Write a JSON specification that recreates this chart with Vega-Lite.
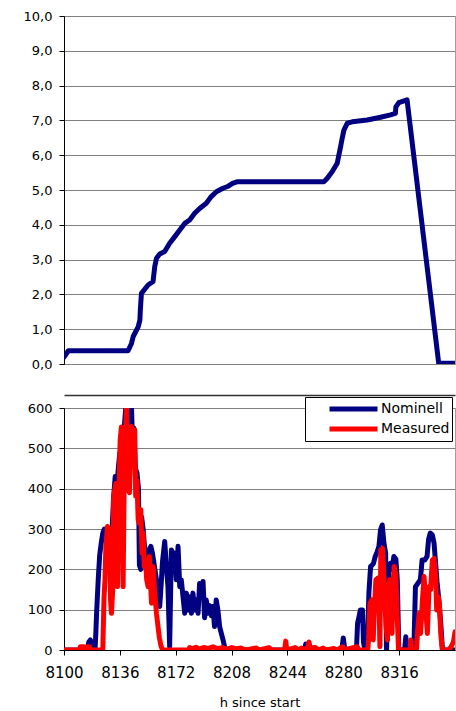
{
  "$schema": "https://vega.github.io/schema/vega-lite/v6.json",
  "background": "white",
  "padding": {"left": 22, "top": 9, "right": 0, "bottom": 0},
  "autosize": {"type": "pad"},
  "spacing": 44,
  "bounds": "flush",
  "config": {
    "font": "DejaVu Sans",
    "view": {"stroke": "#a0a0a0", "strokeWidth": 1},
    "axis": {
      "domainColor": "#000000", "tickColor": "#000000", "gridColor": "#808080", "gridWidth": 1,
      "labelFont": "DejaVu Sans", "labelFontSize": 13, "labelColor": "#000000",
      "tickSize": 5, "labelPadding": 7,
      "titleFont": "DejaVu Sans", "titleFontSize": 13, "titleFontWeight": "normal", "titleColor": "#000000"
    },
    "legend": {
      "labelFont": "DejaVu Sans", "labelFontSize": 14, "labelColor": "#000000"
    }
  },
  "datasets": {
    "top": [
      {"h": 8100, "v": 0.2}, {"h": 8102.8, "v": 0.38}, {"h": 8141.3, "v": 0.38}, {"h": 8143.5, "v": 0.59},
      {"h": 8144.6, "v": 0.79}, {"h": 8147.8, "v": 1.07}, {"h": 8148.9, "v": 1.26}, {"h": 8149.2, "v": 1.55},
      {"h": 8149.9, "v": 2.03}, {"h": 8154.2, "v": 2.27}, {"h": 8157.4, "v": 2.37}, {"h": 8158.5, "v": 2.8},
      {"h": 8159.6, "v": 3.04}, {"h": 8161.7, "v": 3.16}, {"h": 8164.9, "v": 3.23}, {"h": 8168.1, "v": 3.47},
      {"h": 8171.4, "v": 3.66}, {"h": 8174.6, "v": 3.85}, {"h": 8177.8, "v": 4.04}, {"h": 8181, "v": 4.14},
      {"h": 8184.2, "v": 4.33}, {"h": 8187.4, "v": 4.47}, {"h": 8191.7, "v": 4.62}, {"h": 8194.9, "v": 4.81},
      {"h": 8198.2, "v": 4.95}, {"h": 8202.4, "v": 5.05}, {"h": 8205.4, "v": 5.1}, {"h": 8208.6, "v": 5.19},
      {"h": 8211.9, "v": 5.24}, {"h": 8267.6, "v": 5.24}, {"h": 8269.7, "v": 5.34}, {"h": 8272.9, "v": 5.53},
      {"h": 8276.1, "v": 5.77}, {"h": 8277.2, "v": 6.01}, {"h": 8278.3, "v": 6.25}, {"h": 8279.3, "v": 6.49},
      {"h": 8280.4, "v": 6.72}, {"h": 8282.6, "v": 6.92}, {"h": 8285.8, "v": 6.96}, {"h": 8295.4, "v": 7.01},
      {"h": 8304, "v": 7.09}, {"h": 8310.4, "v": 7.16}, {"h": 8313.6, "v": 7.2}, {"h": 8313.9, "v": 7.39},
      {"h": 8315.8, "v": 7.51}, {"h": 8321.1, "v": 7.59}, {"h": 8341.5, "v": 0.02}, {"h": 8352, "v": 0.02}
    ],
    "bottom": [
      {"s": "Nominell", "h": 8100, "v": 0}, {"s": "Nominell", "h": 8115, "v": 0}, {"s": "Nominell", "h": 8116, "v": 20},
      {"s": "Nominell", "h": 8117, "v": 25}, {"s": "Nominell", "h": 8118, "v": 0}, {"s": "Nominell", "h": 8120, "v": 0},
      {"s": "Nominell", "h": 8120.5, "v": 40}, {"s": "Nominell", "h": 8121, "v": 90}, {"s": "Nominell", "h": 8122, "v": 170},
      {"s": "Nominell", "h": 8123, "v": 235}, {"s": "Nominell", "h": 8124, "v": 265}, {"s": "Nominell", "h": 8125, "v": 290},
      {"s": "Nominell", "h": 8126, "v": 300}, {"s": "Nominell", "h": 8127, "v": 280}, {"s": "Nominell", "h": 8128, "v": 300},
      {"s": "Nominell", "h": 8129, "v": 260}, {"s": "Nominell", "h": 8130, "v": 220}, {"s": "Nominell", "h": 8131, "v": 300},
      {"s": "Nominell", "h": 8132, "v": 380}, {"s": "Nominell", "h": 8133, "v": 430}, {"s": "Nominell", "h": 8134, "v": 400},
      {"s": "Nominell", "h": 8135, "v": 450}, {"s": "Nominell", "h": 8136, "v": 490}, {"s": "Nominell", "h": 8137, "v": 430},
      {"s": "Nominell", "h": 8138, "v": 520}, {"s": "Nominell", "h": 8139, "v": 560}, {"s": "Nominell", "h": 8139.8, "v": 600},
      {"s": "Nominell", "h": 8141, "v": 600}, {"s": "Nominell", "h": 8142, "v": 560}, {"s": "Nominell", "h": 8143.5, "v": 600},
      {"s": "Nominell", "h": 8144, "v": 540}, {"s": "Nominell", "h": 8145, "v": 550}, {"s": "Nominell", "h": 8146, "v": 450},
      {"s": "Nominell", "h": 8147, "v": 440}, {"s": "Nominell", "h": 8148, "v": 400}, {"s": "Nominell", "h": 8148.6, "v": 210},
      {"s": "Nominell", "h": 8149.5, "v": 200}, {"s": "Nominell", "h": 8150, "v": 330}, {"s": "Nominell", "h": 8151, "v": 300},
      {"s": "Nominell", "h": 8152, "v": 250}, {"s": "Nominell", "h": 8153, "v": 200}, {"s": "Nominell", "h": 8154, "v": 180},
      {"s": "Nominell", "h": 8155, "v": 250}, {"s": "Nominell", "h": 8156, "v": 257}, {"s": "Nominell", "h": 8157, "v": 240},
      {"s": "Nominell", "h": 8158, "v": 215}, {"s": "Nominell", "h": 8159.6, "v": 174}, {"s": "Nominell", "h": 8160.6, "v": 132},
      {"s": "Nominell", "h": 8161.7, "v": 108}, {"s": "Nominell", "h": 8162.8, "v": 174}, {"s": "Nominell", "h": 8163.5, "v": 220},
      {"s": "Nominell", "h": 8164.9, "v": 269}, {"s": "Nominell", "h": 8166, "v": 207}, {"s": "Nominell", "h": 8167, "v": 157},
      {"s": "Nominell", "h": 8168.1, "v": 8}, {"s": "Nominell", "h": 8169.2, "v": 248}, {"s": "Nominell", "h": 8170.3, "v": 240},
      {"s": "Nominell", "h": 8171.4, "v": 240}, {"s": "Nominell", "h": 8172.4, "v": 174}, {"s": "Nominell", "h": 8173.5, "v": 257},
      {"s": "Nominell", "h": 8174.6, "v": 157}, {"s": "Nominell", "h": 8175.6, "v": 174}, {"s": "Nominell", "h": 8176.7, "v": 132},
      {"s": "Nominell", "h": 8177.8, "v": 91}, {"s": "Nominell", "h": 8178.9, "v": 141}, {"s": "Nominell", "h": 8179.9, "v": 99},
      {"s": "Nominell", "h": 8181, "v": 132}, {"s": "Nominell", "h": 8182.1, "v": 91}, {"s": "Nominell", "h": 8183.1, "v": 141},
      {"s": "Nominell", "h": 8184.2, "v": 99}, {"s": "Nominell", "h": 8185.3, "v": 124}, {"s": "Nominell", "h": 8186.4, "v": 91},
      {"s": "Nominell", "h": 8187.4, "v": 165}, {"s": "Nominell", "h": 8188.5, "v": 141}, {"s": "Nominell", "h": 8189.6, "v": 170},
      {"s": "Nominell", "h": 8190.6, "v": 80}, {"s": "Nominell", "h": 8191.7, "v": 124}, {"s": "Nominell", "h": 8192.8, "v": 91},
      {"s": "Nominell", "h": 8193.9, "v": 110}, {"s": "Nominell", "h": 8195, "v": 85}, {"s": "Nominell", "h": 8196, "v": 108},
      {"s": "Nominell", "h": 8197, "v": 58}, {"s": "Nominell", "h": 8198.1, "v": 124}, {"s": "Nominell", "h": 8199.2, "v": 99},
      {"s": "Nominell", "h": 8200.3, "v": 58}, {"s": "Nominell", "h": 8201.4, "v": 41}, {"s": "Nominell", "h": 8202.5, "v": 25},
      {"s": "Nominell", "h": 8203.5, "v": 8}, {"s": "Nominell", "h": 8204.6, "v": 0}, {"s": "Nominell", "h": 8255, "v": 0},
      {"s": "Nominell", "h": 8255.8, "v": 15}, {"s": "Nominell", "h": 8256.5, "v": 0}, {"s": "Nominell", "h": 8279, "v": 0},
      {"s": "Nominell", "h": 8280, "v": 30}, {"s": "Nominell", "h": 8281, "v": 0}, {"s": "Nominell", "h": 8288.5, "v": 0},
      {"s": "Nominell", "h": 8289.2, "v": 66}, {"s": "Nominell", "h": 8290, "v": 80}, {"s": "Nominell", "h": 8291, "v": 99},
      {"s": "Nominell", "h": 8292.4, "v": 99}, {"s": "Nominell", "h": 8293, "v": 20}, {"s": "Nominell", "h": 8294, "v": 0},
      {"s": "Nominell", "h": 8295.5, "v": 0}, {"s": "Nominell", "h": 8296.5, "v": 141}, {"s": "Nominell", "h": 8297.6, "v": 207},
      {"s": "Nominell", "h": 8298.5, "v": 210}, {"s": "Nominell", "h": 8299.5, "v": 215}, {"s": "Nominell", "h": 8300.5, "v": 231},
      {"s": "Nominell", "h": 8301.5, "v": 240}, {"s": "Nominell", "h": 8303, "v": 257}, {"s": "Nominell", "h": 8304, "v": 298},
      {"s": "Nominell", "h": 8305.1, "v": 310}, {"s": "Nominell", "h": 8306.2, "v": 265}, {"s": "Nominell", "h": 8307.3, "v": 240},
      {"s": "Nominell", "h": 8307.9, "v": 0}, {"s": "Nominell", "h": 8309.4, "v": 207}, {"s": "Nominell", "h": 8310.5, "v": 215},
      {"s": "Nominell", "h": 8311.5, "v": 200}, {"s": "Nominell", "h": 8312.6, "v": 232}, {"s": "Nominell", "h": 8313.9, "v": 225},
      {"s": "Nominell", "h": 8314.8, "v": 174}, {"s": "Nominell", "h": 8315.8, "v": 0}, {"s": "Nominell", "h": 8319.5, "v": 0},
      {"s": "Nominell", "h": 8320.3, "v": 33}, {"s": "Nominell", "h": 8321, "v": 0}, {"s": "Nominell", "h": 8325.5, "v": 0},
      {"s": "Nominell", "h": 8326.5, "v": 157}, {"s": "Nominell", "h": 8328, "v": 165}, {"s": "Nominell", "h": 8329.7, "v": 174},
      {"s": "Nominell", "h": 8330.8, "v": 223}, {"s": "Nominell", "h": 8332.5, "v": 223}, {"s": "Nominell", "h": 8334, "v": 232},
      {"s": "Nominell", "h": 8335, "v": 275}, {"s": "Nominell", "h": 8336.1, "v": 290}, {"s": "Nominell", "h": 8337.4, "v": 285},
      {"s": "Nominell", "h": 8338.5, "v": 265}, {"s": "Nominell", "h": 8339.5, "v": 215}, {"s": "Nominell", "h": 8340.4, "v": 170},
      {"s": "Nominell", "h": 8341.7, "v": 120}, {"s": "Nominell", "h": 8342.8, "v": 67}, {"s": "Nominell", "h": 8343.8, "v": 8},
      {"s": "Nominell", "h": 8344.5, "v": 0}, {"s": "Nominell", "h": 8352, "v": 0},

      {"s": "Measured", "h": 8100, "v": 0}, {"s": "Measured", "h": 8110, "v": 0}, {"s": "Measured", "h": 8110.5, "v": 8},
      {"s": "Measured", "h": 8113, "v": 8}, {"s": "Measured", "h": 8113.5, "v": 0}, {"s": "Measured", "h": 8114.5, "v": 0},
      {"s": "Measured", "h": 8115, "v": 8}, {"s": "Measured", "h": 8116.5, "v": 8}, {"s": "Measured", "h": 8117, "v": 0},
      {"s": "Measured", "h": 8125, "v": 0}, {"s": "Measured", "h": 8125.8, "v": 130}, {"s": "Measured", "h": 8126.4, "v": 174},
      {"s": "Measured", "h": 8127, "v": 256}, {"s": "Measured", "h": 8128, "v": 306}, {"s": "Measured", "h": 8129, "v": 300},
      {"s": "Measured", "h": 8129.5, "v": 273}, {"s": "Measured", "h": 8130, "v": 124}, {"s": "Measured", "h": 8130.6, "v": 91},
      {"s": "Measured", "h": 8131.5, "v": 157}, {"s": "Measured", "h": 8132, "v": 380}, {"s": "Measured", "h": 8133.4, "v": 413},
      {"s": "Measured", "h": 8134.5, "v": 157}, {"s": "Measured", "h": 8135, "v": 281}, {"s": "Measured", "h": 8135.7, "v": 438},
      {"s": "Measured", "h": 8136.2, "v": 520}, {"s": "Measured", "h": 8137, "v": 553}, {"s": "Measured", "h": 8137.5, "v": 471},
      {"s": "Measured", "h": 8138.1, "v": 157}, {"s": "Measured", "h": 8138.8, "v": 421}, {"s": "Measured", "h": 8139.5, "v": 512},
      {"s": "Measured", "h": 8140.3, "v": 600}, {"s": "Measured", "h": 8140.8, "v": 513}, {"s": "Measured", "h": 8141.3, "v": 397},
      {"s": "Measured", "h": 8142.2, "v": 390}, {"s": "Measured", "h": 8143.5, "v": 554}, {"s": "Measured", "h": 8144.3, "v": 500},
      {"s": "Measured", "h": 8145.6, "v": 546}, {"s": "Measured", "h": 8146.2, "v": 381}, {"s": "Measured", "h": 8147, "v": 420},
      {"s": "Measured", "h": 8147.8, "v": 323}, {"s": "Measured", "h": 8148.6, "v": 314}, {"s": "Measured", "h": 8149.5, "v": 348},
      {"s": "Measured", "h": 8150.3, "v": 240}, {"s": "Measured", "h": 8151, "v": 290}, {"s": "Measured", "h": 8151.7, "v": 207},
      {"s": "Measured", "h": 8152.5, "v": 223}, {"s": "Measured", "h": 8153.3, "v": 174}, {"s": "Measured", "h": 8154.2, "v": 157},
      {"s": "Measured", "h": 8155, "v": 232}, {"s": "Measured", "h": 8156.4, "v": 116}, {"s": "Measured", "h": 8157.4, "v": 207},
      {"s": "Measured", "h": 8158.5, "v": 141}, {"s": "Measured", "h": 8159.6, "v": 91}, {"s": "Measured", "h": 8160.6, "v": 58},
      {"s": "Measured", "h": 8161.5, "v": 30}, {"s": "Measured", "h": 8162.5, "v": 10}, {"s": "Measured", "h": 8163.5, "v": 0},
      {"s": "Measured", "h": 8180, "v": 0}, {"s": "Measured", "h": 8181, "v": 6}, {"s": "Measured", "h": 8183, "v": 3},
      {"s": "Measured", "h": 8185, "v": 7}, {"s": "Measured", "h": 8187, "v": 2}, {"s": "Measured", "h": 8190, "v": 6},
      {"s": "Measured", "h": 8193, "v": 4}, {"s": "Measured", "h": 8196, "v": 8}, {"s": "Measured", "h": 8199, "v": 3},
      {"s": "Measured", "h": 8202, "v": 6}, {"s": "Measured", "h": 8205, "v": 2}, {"s": "Measured", "h": 8208, "v": 6},
      {"s": "Measured", "h": 8211, "v": 3}, {"s": "Measured", "h": 8214, "v": 5}, {"s": "Measured", "h": 8217, "v": 0},
      {"s": "Measured", "h": 8224, "v": 5}, {"s": "Measured", "h": 8226, "v": 0}, {"s": "Measured", "h": 8232, "v": 6},
      {"s": "Measured", "h": 8234, "v": 0}, {"s": "Measured", "h": 8242.2, "v": 0}, {"s": "Measured", "h": 8242.9, "v": 22},
      {"s": "Measured", "h": 8243.6, "v": 0}, {"s": "Measured", "h": 8249, "v": 6}, {"s": "Measured", "h": 8251, "v": 0},
      {"s": "Measured", "h": 8253, "v": 5}, {"s": "Measured", "h": 8255, "v": 0}, {"s": "Measured", "h": 8257.3, "v": 8},
      {"s": "Measured", "h": 8257.9, "v": 20}, {"s": "Measured", "h": 8258.6, "v": 5}, {"s": "Measured", "h": 8262, "v": 6},
      {"s": "Measured", "h": 8264, "v": 0}, {"s": "Measured", "h": 8267, "v": 5}, {"s": "Measured", "h": 8269, "v": 0},
      {"s": "Measured", "h": 8274, "v": 4}, {"s": "Measured", "h": 8276, "v": 0}, {"s": "Measured", "h": 8279.6, "v": 8},
      {"s": "Measured", "h": 8280.3, "v": 0}, {"s": "Measured", "h": 8289, "v": 8}, {"s": "Measured", "h": 8290, "v": 0},
      {"s": "Measured", "h": 8295.8, "v": 0}, {"s": "Measured", "h": 8296.3, "v": 25}, {"s": "Measured", "h": 8297.2, "v": 116},
      {"s": "Measured", "h": 8298.4, "v": 124}, {"s": "Measured", "h": 8299.3, "v": 25}, {"s": "Measured", "h": 8299.9, "v": 91},
      {"s": "Measured", "h": 8301, "v": 174}, {"s": "Measured", "h": 8302.1, "v": 178}, {"s": "Measured", "h": 8303.1, "v": 107},
      {"s": "Measured", "h": 8303.6, "v": 8}, {"s": "Measured", "h": 8304.2, "v": 248}, {"s": "Measured", "h": 8305.3, "v": 252},
      {"s": "Measured", "h": 8306.4, "v": 165}, {"s": "Measured", "h": 8307.5, "v": 58}, {"s": "Measured", "h": 8308.5, "v": 25},
      {"s": "Measured", "h": 8309.1, "v": 157}, {"s": "Measured", "h": 8310, "v": 174}, {"s": "Measured", "h": 8310.7, "v": 150},
      {"s": "Measured", "h": 8311.4, "v": 41}, {"s": "Measured", "h": 8312.1, "v": 165}, {"s": "Measured", "h": 8312.8, "v": 207},
      {"s": "Measured", "h": 8313.9, "v": 185}, {"s": "Measured", "h": 8314.6, "v": 100}, {"s": "Measured", "h": 8315.6, "v": 0},
      {"s": "Measured", "h": 8323, "v": 0}, {"s": "Measured", "h": 8323.5, "v": 25}, {"s": "Measured", "h": 8324, "v": 0},
      {"s": "Measured", "h": 8327.2, "v": 0}, {"s": "Measured", "h": 8327.8, "v": 41}, {"s": "Measured", "h": 8328.9, "v": 91},
      {"s": "Measured", "h": 8329.8, "v": 41}, {"s": "Measured", "h": 8331, "v": 124}, {"s": "Measured", "h": 8332.1, "v": 182},
      {"s": "Measured", "h": 8333.2, "v": 99}, {"s": "Measured", "h": 8334.2, "v": 41}, {"s": "Measured", "h": 8335.3, "v": 157},
      {"s": "Measured", "h": 8336.3, "v": 150}, {"s": "Measured", "h": 8337.4, "v": 223}, {"s": "Measured", "h": 8338.5, "v": 227},
      {"s": "Measured", "h": 8339.6, "v": 174}, {"s": "Measured", "h": 8340.2, "v": 99}, {"s": "Measured", "h": 8341.3, "v": 132},
      {"s": "Measured", "h": 8342, "v": 110}, {"s": "Measured", "h": 8342.8, "v": 41}, {"s": "Measured", "h": 8343.8, "v": 0},
      {"s": "Measured", "h": 8348, "v": 0}, {"s": "Measured", "h": 8349.5, "v": 8}, {"s": "Measured", "h": 8351, "v": 20},
      {"s": "Measured", "h": 8352, "v": 45}
    ]
  },
  "vconcat": [
    {
      "width": 391,
      "height": 348,
      "data": {"name": "top"},
      "mark": {"type": "line", "color": "#000080", "strokeWidth": 5, "strokeJoin": "round", "strokeCap": "round", "clip": true},
      "encoding": {
        "x": {
          "field": "h", "type": "quantitative", "scale": {"domain": [8100, 8352], "nice": false, "zero": false},
          "axis": {"title": null, "labels": false, "ticks": false, "grid": false, "offset": 31, "domain": true, "domainColor": "#303030", "domainWidth": 1.5}
        },
        "y": {
          "field": "v", "type": "quantitative",
          "scale": {"domain": [0, 10], "nice": false},
          "axis": {"title": null, "values": [0, 1, 2, 3, 4, 5, 6, 7, 8, 9, 10], "labelExpr": "replace(format(datum.value, '.1f'), '.', ',')"}
        }
      }
    },
    {
      "width": 391,
      "height": 242,
      "data": {"name": "bottom"},
      "encoding": {
        "x": {
          "field": "h", "type": "quantitative",
          "scale": {"domain": [8100, 8352], "nice": false, "zero": false},
          "axis": {"title": "h since start", "grid": false, "values": [8100, 8136, 8172, 8208, 8244, 8280, 8316], "format": "d", "labelFontSize": 15, "labelPadding": 10, "labelFlush": false, "titlePadding": 16}
        },
        "y": {
          "field": "v", "type": "quantitative",
          "scale": {"domain": [0, 600], "nice": false},
          "axis": {"title": null, "values": [0, 100, 200, 300, 400, 500, 600]}
        }
      },
      "layer": [
        {
          "transform": [{"filter": "datum.s === 'Nominell'"}],
          "mark": {"type": "line", "strokeWidth": 5, "strokeJoin": "round", "strokeCap": "round", "clip": true},
          "encoding": {
            "color": {
              "field": "s", "type": "nominal",
              "scale": {"domain": ["Nominell", "Measured"], "range": ["#000080", "#ff0000"]},
              "legend": {
                "title": null, "orient": "none", "legendX": 241, "legendY": 381, "direction": "vertical",
                "symbolType": "M-3.2,0H3.2", "symbolStrokeWidth": 5, "symbolSize": 225, "symbolOffset": 36.5,
                "labelOffset": 17.5, "padding": 2, "rowPadding": 0,
                "strokeColor": "#000000", "fillColor": "#ffffff", "cornerRadius": 0
              }
            }
          }
        },
        {
          "transform": [{"filter": "datum.s === 'Measured'"}],
          "mark": {"type": "line", "strokeWidth": 5, "strokeJoin": "round", "strokeCap": "round", "clip": true},
          "encoding": {
            "color": {"field": "s", "type": "nominal"}
          }
        }
      ]
    }
  ]
}
